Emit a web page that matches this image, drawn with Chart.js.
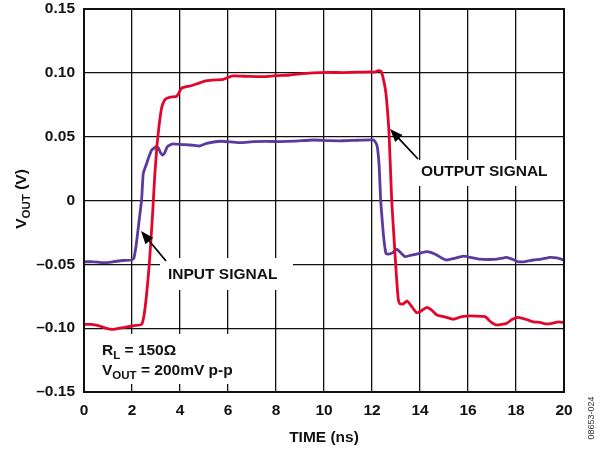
<!DOCTYPE html>
<html>
<head>
<meta charset="utf-8">
<script src="https://cdn.jsdelivr.net/npm/chart.js@4.4.0/dist/chart.umd.min.js"></script>
<style>
body { margin: 0; background: #fff; }
#wrap { width: 605px; height: 450px; }
</style>
</head>
<body>
<div id="wrap"><canvas id="scope"></canvas></div>
<script>
// output signal (red), time in ns / volts
var outTime = [0, 0.3, 0.6, 0.9, 1.2, 1.5, 1.8, 2.1, 2.4, 2.5, 2.6, 2.72, 2.86, 2.95, 3.05, 3.15, 3.24, 3.34, 3.44, 3.6,
	3.86, 4.07, 4.42, 4.8, 5.11, 5.5, 5.8, 6.15, 6.8, 7.47, 8.0, 8.58, 9.1, 9.56, 10.2, 10.8, 11.4, 11.92, 12.1, 12.26,
	12.38, 12.45, 12.55, 12.61, 12.71, 12.82, 12.92, 13.02, 13.1, 13.17, 13.3, 13.47, 13.65, 13.86, 14.05, 14.28, 14.5,
	14.7, 15.0, 15.39, 15.7, 15.95, 16.3, 16.71, 16.95, 17.2, 17.61, 17.85, 18.1, 18.4, 18.72, 19.0, 19.28, 19.55, 19.76, 20];
var outVolt = [-0.097, -0.097, -0.098, -0.100, -0.101, -0.100, -0.099, -0.098, -0.097, -0.09, -0.075, -0.05, -0.01, 0.02,
	0.045, 0.062, 0.073, 0.078, 0.080, 0.081, 0.0815, 0.088, 0.0897, 0.092, 0.0938, 0.0945, 0.0948, 0.0975, 0.0972, 0.0970,
	0.0978, 0.0983, 0.0993, 0.1000, 0.1003, 0.1002, 0.1005, 0.1007, 0.1005, 0.1017, 0.1012, 0.097, 0.088, 0.0787, 0.0526,
	0.0004, -0.03, -0.06, -0.078, -0.081, -0.081, -0.0787, -0.083, -0.0879, -0.0865, -0.0837, -0.086, -0.0897, -0.091,
	-0.093, -0.0912, -0.0905, -0.0905, -0.091, -0.095, -0.0975, -0.0962, -0.093, -0.0915, -0.093, -0.095, -0.0955,
	-0.0967, -0.096, -0.095, -0.0957];

// input signal (purple)
var inTime = [0, 0.4, 0.8, 1.2, 1.6, 1.99, 2.08, 2.15, 2.2, 2.3, 2.4, 2.47, 2.61, 2.72, 2.82, 2.92, 3.0, 3.1, 3.2, 3.28,
	3.38, 3.47, 3.6, 3.72, 4.2, 4.6, 4.83, 5.11, 5.67, 6.1, 6.5, 7.06, 7.6, 8.17, 8.8, 9.56, 10.2, 10.8, 11.4, 12.06,
	12.15, 12.22, 12.3, 12.36, 12.47, 12.58, 12.68, 12.85, 13.03, 13.2, 13.38, 13.6, 13.86, 14.05, 14.28, 14.5, 14.7,
	14.9, 15.11, 15.4, 15.81, 16.1, 16.5, 16.85, 17.2, 17.61, 17.85, 18.1, 18.4, 18.72, 19.05, 19.42, 19.7, 20];
var inVolt = [-0.048, -0.048, -0.0487, -0.048, -0.047, -0.0466, -0.045, -0.038, -0.031, -0.0153, 0.0004, 0.0213, 0.029,
	0.035, 0.0396, 0.041, 0.0421, 0.041, 0.037, 0.0356, 0.038, 0.0421, 0.0437, 0.0443, 0.0437, 0.0432, 0.0427, 0.0448,
	0.0464, 0.046, 0.0453, 0.0461, 0.0463, 0.0461, 0.0465, 0.0474, 0.0469, 0.0468, 0.0472, 0.0474, 0.0455, 0.0421,
	0.0265, 0.0004, -0.0257, -0.0414, -0.042, -0.041, -0.0382, -0.041, -0.044, -0.043, -0.042, -0.041, -0.040, -0.041,
	-0.0427, -0.045, -0.0466, -0.0455, -0.0435, -0.0445, -0.046, -0.0462, -0.046, -0.0445, -0.046, -0.048, -0.0478,
	-0.0466, -0.046, -0.0445, -0.045, -0.0466];

var xTicks = [0, 2, 4, 6, 8, 10, 12, 14, 16, 18, 20];
var yTicks = [-0.15, -0.10, -0.05, 0, 0.05, 0.10, 0.15];

var FONT = "'Liberation Sans', Arial, sans-serif";

function pairs(xs, ys) {
	var pts = [];
	for (var i = 0; i < xs.length; i++) pts.push({ x: xs[i], y: ys[i] });
	return pts;
}

function yLabel(v) {
	if (Math.abs(v) < 1e-9) return "0";
	var s = Math.abs(v).toFixed(2);
	return v < 0 ? "\u2013" + s : s;
}

// text with subscript runs: parts = [[text, isSub], ...]
function subText(ctx, parts, x, y, big, small) {
	ctx.textAlign = "left";
	ctx.textBaseline = "alphabetic";
	for (var i = 0; i < parts.length; i++) {
		var sub = parts[i][1];
		ctx.font = "bold " + (sub ? small : big) + "px " + FONT;
		ctx.fillText(parts[i][0], x, sub ? y + 4 : y);
		x += ctx.measureText(parts[i][0]).width;
	}
	return x;
}

function subWidth(ctx, parts, big, small) {
	var w = 0;
	for (var i = 0; i < parts.length; i++) {
		ctx.font = "bold " + (parts[i][1] ? small : big) + "px " + FONT;
		w += ctx.measureText(parts[i][0]).width;
	}
	return w;
}

function arrow(ctx, x1, y1, x2, y2) {
	// from tail (x1,y1) to tip (x2,y2)
	var a = Math.atan2(y2 - y1, x2 - x1);
	var len = 13, half = 5;
	ctx.strokeStyle = "#000";
	ctx.fillStyle = "#000";
	ctx.lineWidth = 1.8;
	ctx.beginPath();
	ctx.moveTo(x1, y1);
	ctx.lineTo(x2 - Math.cos(a) * len * 0.8, y2 - Math.sin(a) * len * 0.8);
	ctx.stroke();
	ctx.beginPath();
	ctx.moveTo(x2, y2);
	ctx.lineTo(x2 - Math.cos(a) * len - Math.sin(a) * half, y2 - Math.sin(a) * len + Math.cos(a) * half);
	ctx.lineTo(x2 - Math.cos(a) * len + Math.sin(a) * half, y2 - Math.sin(a) * len - Math.cos(a) * half);
	ctx.closePath();
	ctx.fill();
}

var decor = {
	id: "decor",
	beforeDatasetsDraw: function (chart) {
		var ctx = chart.ctx;
		ctx.save();
		ctx.fillStyle = "#fff";
		// label backgrounds hide the grid
		ctx.fillRect(160, 258, 133, 32);
		ctx.fillRect(413, 160, 143, 26);
		ctx.fillRect(90, 334, 160, 50);
		ctx.restore();
	},
	afterDatasetsDraw: function (chart) {
		var ctx = chart.ctx;
		var a = chart.chartArea;
		ctx.save();
		ctx.strokeStyle = "#111";
		ctx.lineWidth = 2;
		ctx.strokeRect(a.left, a.top, a.right - a.left, a.bottom - a.top);

		ctx.fillStyle = "#111";
		ctx.font = "bold 15.5px " + FONT;
		ctx.textBaseline = "middle";
		ctx.textAlign = "left";
		ctx.fillText("OUTPUT SIGNAL", 421, 172);
		ctx.fillText("INPUT SIGNAL", 168, 275);
		arrow(ctx, 418, 159, 390, 129);
		arrow(ctx, 166, 261, 141, 231);

		ctx.fillStyle = "#111";
		subText(ctx, [["R", false], ["L", true], [" = 150\u03A9", false]], 102, 355, 15.5, 11.5);
		subText(ctx, [["V", false], ["OUT", true], [" = 200mV p-p", false]], 102, 375, 15.5, 11.5);
		ctx.restore();
	},
	afterDraw: function (chart) {
		var ctx = chart.ctx;
		ctx.save();
		ctx.fillStyle = "#111";
		ctx.font = "bold 15.5px " + FONT;
		ctx.textAlign = "center";
		ctx.textBaseline = "middle";
		ctx.fillText("TIME (ns)", 324, 438);

		// y title, rotated
		var parts = [["V", false], ["OUT", true], [" (V)", false]];
		var w = subWidth(ctx, parts, 15.5, 11.5);
		ctx.translate(26, 199);
		ctx.rotate(-Math.PI / 2);
		subText(ctx, parts, -w / 2, 0, 15.5, 11.5);
		ctx.restore();

		ctx.save();
		ctx.fillStyle = "#333";
		ctx.font = "9px " + FONT;
		ctx.textAlign = "center";
		ctx.textBaseline = "middle";
		ctx.translate(592, 418);
		ctx.rotate(-Math.PI / 2);
		ctx.fillText("08653-024", 0, 0);
		ctx.restore();
	}
};

var ctx = document.getElementById("scope").getContext("2d");
var scopeChart = new Chart(ctx, {
	type: "line",
	data: {
		datasets: [
			{
				label: "OUTPUT SIGNAL",
				data: pairs(outTime, outVolt),
				borderColor: "#e2062c",
				borderWidth: 2.8,
				pointRadius: 0,
				tension: 0.15,
				fill: false,
			},
			{
				label: "INPUT SIGNAL",
				data: pairs(inTime, inVolt),
				borderColor: "#5b3a9e",
				borderWidth: 2.8,
				pointRadius: 0,
				tension: 0.15,
				fill: false,
			},
		],
	},
	options: {
		responsive: true,
		maintainAspectRatio: false,
		animation: false,
		events: [],
		layout: {
			padding: { top: 9, right: 41, left: 0, bottom: 0 },
		},
		plugins: {
			legend: { display: false },
			tooltip: { enabled: false },
		},
		scales: {
			x: {
				type: "linear",
				min: 0,
				max: 20,
				afterBuildTicks: function (scale) {
					scale.ticks = xTicks.map(function (v) { return { value: v }; });
				},
				afterFit: function (scale) {
					scale.height = 58;
					scale.paddingLeft = 0;
					scale.paddingRight = 0;
				},
				ticks: {
					color: "#111",
					font: { family: FONT, size: 15.5, weight: "bold" },
					padding: 9,
					maxRotation: 0,
					callback: function (v) { return String(v); },
				},
				grid: { color: "#111", lineWidth: 1.3, drawTicks: false },
				border: { display: false },
			},
			y: {
				type: "linear",
				min: -0.15,
				max: 0.15,
				afterBuildTicks: function (scale) {
					scale.ticks = yTicks.map(function (v) { return { value: v }; });
				},
				afterFit: function (scale) {
					scale.width = 84;
					scale.paddingTop = 0;
					scale.paddingBottom = 0;
				},
				ticks: {
					color: "#111",
					font: { family: FONT, size: 15.5, weight: "bold" },
					padding: 9,
					callback: function (v) { return yLabel(v); },
				},
				grid: { color: "#111", lineWidth: 1.3, drawTicks: false },
				border: { display: false },
			},
		},
	},
	plugins: [decor],
});
</script>
</body>
</html>
